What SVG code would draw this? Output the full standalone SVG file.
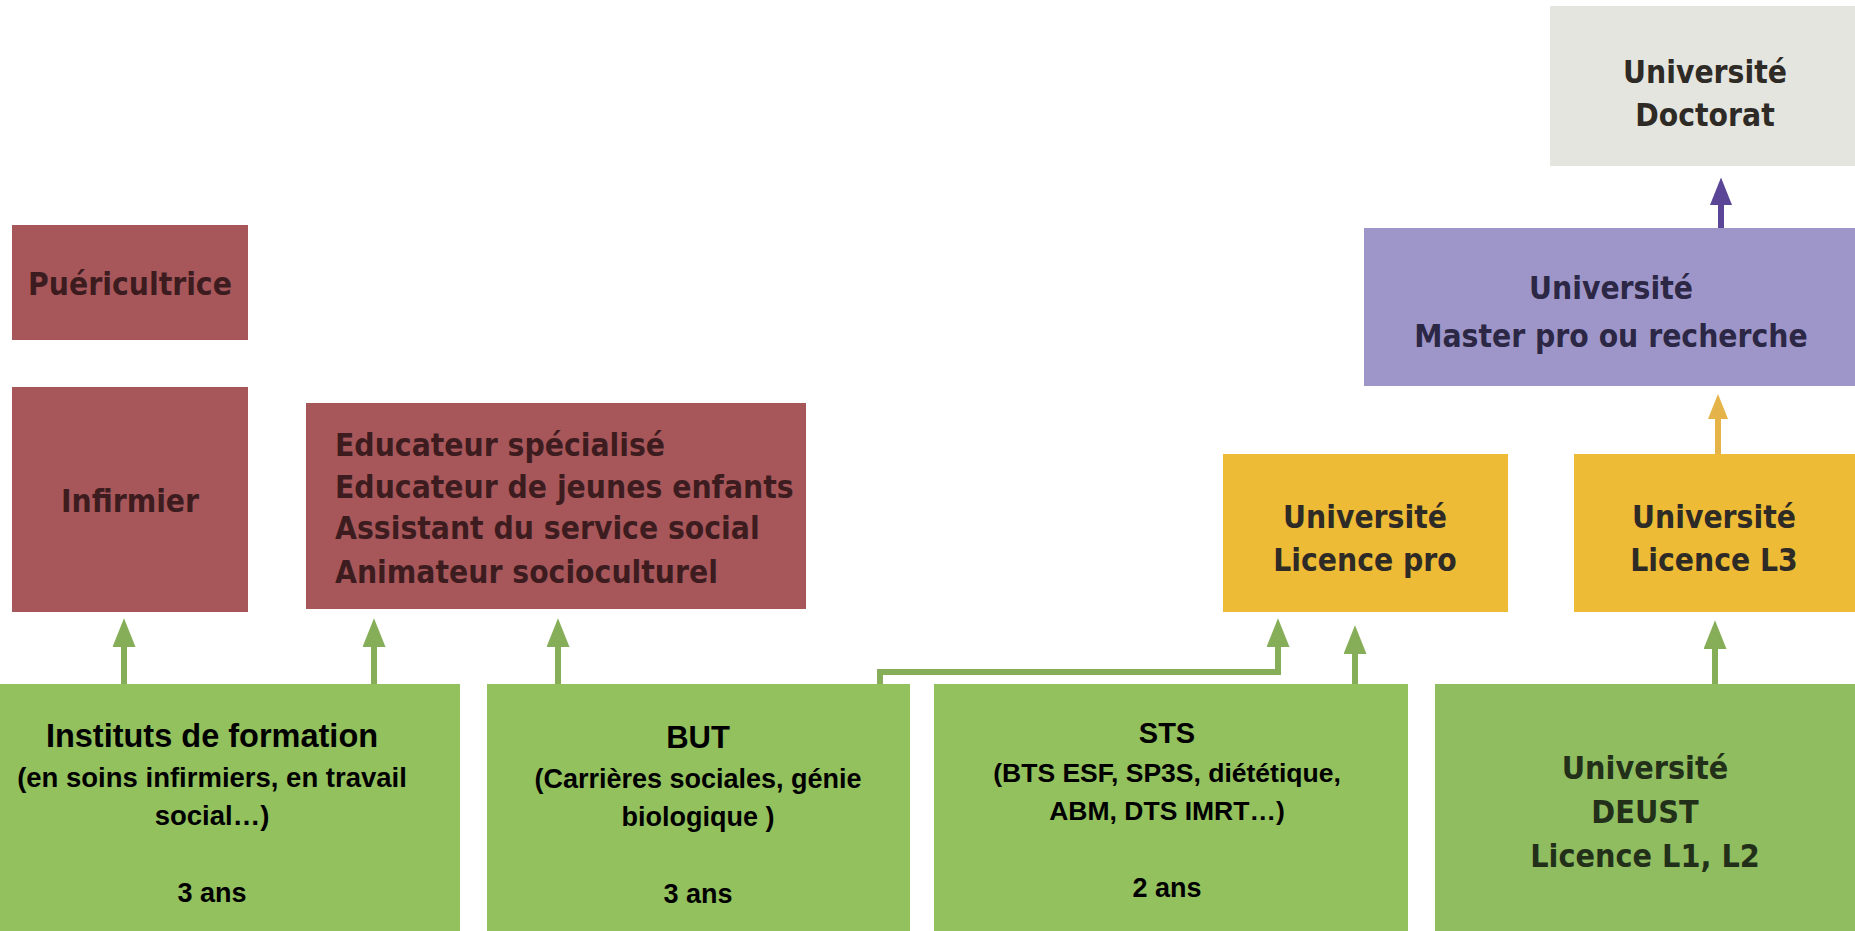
<svg xmlns="http://www.w3.org/2000/svg" width="1855" height="931" viewBox="0 0 1855 931">
  <defs>
    <style>
      .red { fill: #a7575a; }
      .green { fill: #93c15e; }
      .orange { fill: #eebb36; }
      .purple { fill: #9e96c8; }
      .gray { fill: #e5e5df; }
      .rt { font-family: "DejaVu Sans Condensed", "DejaVu Sans", sans-serif; font-stretch: condensed; font-weight: bold; font-size: 31.5px; fill: #3d1c1f; }
      .ut { font-family: "DejaVu Sans Condensed", "DejaVu Sans", sans-serif; font-stretch: condensed; font-weight: bold; font-size: 31.5px; fill: #2e2a25; text-anchor: middle; }
      .mt { font-family: "DejaVu Sans Condensed", "DejaVu Sans", sans-serif; font-stretch: condensed; font-weight: bold; font-size: 31.5px; fill: #2b2745; text-anchor: middle; }
      .dt { font-family: "DejaVu Sans Condensed", "DejaVu Sans", sans-serif; font-stretch: condensed; font-weight: bold; font-size: 32px; fill: #22301a; text-anchor: middle; }
      .gt { font-family: "Liberation Sans", Arial, sans-serif; font-weight: bold; fill: #000; text-anchor: middle; }
      .ga { fill: none; stroke: #86ad58; stroke-width: 6; }
      .pa { fill: none; stroke: #5a4597; stroke-width: 6; }
      .oa { fill: none; stroke: #e5b448; stroke-width: 6; }
    </style>
    <marker id="hg" viewBox="0 0 30 24" refX="0" refY="12" markerWidth="29" markerHeight="23" markerUnits="userSpaceOnUse" orient="auto">
      <path d="M0,0 L30,12 L0,24 z" fill="#86ad58"/>
    </marker>
    <marker id="hp" viewBox="0 0 30 24" refX="0" refY="12" markerWidth="30" markerHeight="22" markerUnits="userSpaceOnUse" orient="auto">
      <path d="M0,0 L30,12 L0,24 z" fill="#5a4597"/>
    </marker>
    <marker id="ho" viewBox="0 0 30 24" refX="0" refY="12" markerWidth="25" markerHeight="22" markerUnits="userSpaceOnUse" orient="auto">
      <path d="M0,0 L30,12 L0,24 z" fill="#e5b448"/>
    </marker>
  </defs>
  <rect width="1855" height="931" fill="#ffffff"/>

  <g id="connectors">
    <path class="ga" d="M124,684 V647" marker-end="url(#hg)"/>
    <path class="ga" d="M374,684 V647" marker-end="url(#hg)"/>
    <path class="ga" d="M558,684 V647" marker-end="url(#hg)"/>
    <path class="ga" d="M880,684 V672 H1278 V647" marker-end="url(#hg)"/>
    <path class="ga" d="M1355,684 V654" marker-end="url(#hg)"/>
    <path class="ga" d="M1715,684 V649" marker-end="url(#hg)"/>
    <path class="pa" d="M1721,228 V205" marker-end="url(#hp)"/>
    <path class="oa" d="M1718,455 V419" marker-end="url(#ho)"/>
  </g>

  <g id="puericultrice">
    <rect class="red" x="12" y="225" width="236" height="115"/>
    <text class="rt" x="130" y="295" text-anchor="middle">Puéricultrice</text>
  </g>
  <g id="infirmier">
    <rect class="red" x="12" y="387" width="236" height="225"/>
    <text class="rt" x="130" y="512" text-anchor="middle">Infirmier</text>
  </g>
  <g id="educateur">
    <rect class="red" x="306" y="403" width="500" height="206"/>
    <text class="rt" x="335" y="456">Educateur spécialisé</text>
    <text class="rt" x="335" y="498">Educateur de jeunes enfants</text>
    <text class="rt" x="335" y="539">Assistant du service social</text>
    <text class="rt" x="335" y="583">Animateur socioculturel</text>
  </g>

  <g id="doctorat">
    <rect class="gray" x="1550" y="6" width="305" height="160"/>
    <text class="ut" x="1705" y="83">Université</text>
    <text class="ut" x="1705" y="126">Doctorat</text>
  </g>
  <g id="master">
    <rect class="purple" x="1364" y="228" width="491" height="158"/>
    <text class="mt" x="1611" y="299">Université</text>
    <text class="mt" x="1611" y="347">Master pro ou recherche</text>
  </g>
  <g id="licence-pro">
    <rect class="orange" x="1223" y="454" width="285" height="158"/>
    <text class="ut" x="1365" y="528">Université</text>
    <text class="ut" x="1365" y="571">Licence pro</text>
  </g>
  <g id="licence-l3">
    <rect class="orange" x="1574" y="454" width="281" height="158"/>
    <text class="ut" x="1714" y="528">Université</text>
    <text class="ut" x="1714" y="571">Licence L3</text>
  </g>

  <g id="instituts">
    <rect class="green" x="0" y="684" width="460" height="247"/>
    <text class="gt" x="212" y="747" font-size="32.5">Instituts de formation</text>
    <text class="gt" x="212" y="787" font-size="27.5">(en soins infirmiers, en travail</text>
    <text class="gt" x="212" y="825" font-size="27.5">social…)</text>
    <text class="gt" x="212" y="902" font-size="27">3 ans</text>
  </g>
  <g id="but">
    <rect class="green" x="487" y="684" width="423" height="247"/>
    <text class="gt" x="698" y="748" font-size="31">BUT</text>
    <text class="gt" x="698" y="788" font-size="27">(Carrières sociales, génie</text>
    <text class="gt" x="698" y="826" font-size="27">biologique )</text>
    <text class="gt" x="698" y="903" font-size="27">3 ans</text>
  </g>
  <g id="sts">
    <rect class="green" x="934" y="684" width="474" height="247"/>
    <text class="gt" x="1167" y="743" font-size="29">STS</text>
    <text class="gt" x="1167" y="782" font-size="26.5">(BTS ESF, SP3S, diététique,</text>
    <text class="gt" x="1167" y="820" font-size="26.5">ABM, DTS IMRT…)</text>
    <text class="gt" x="1167" y="897" font-size="27">2 ans</text>
  </g>
  <g id="deust">
    <rect class="green" x="1435" y="684" width="420" height="247" style="fill:#90bd5f"/>
    <text class="dt" x="1645" y="779">Université</text>
    <text class="dt" x="1645" y="823">DEUST</text>
    <text class="dt" x="1645" y="867">Licence L1, L2</text>
  </g>
</svg>
